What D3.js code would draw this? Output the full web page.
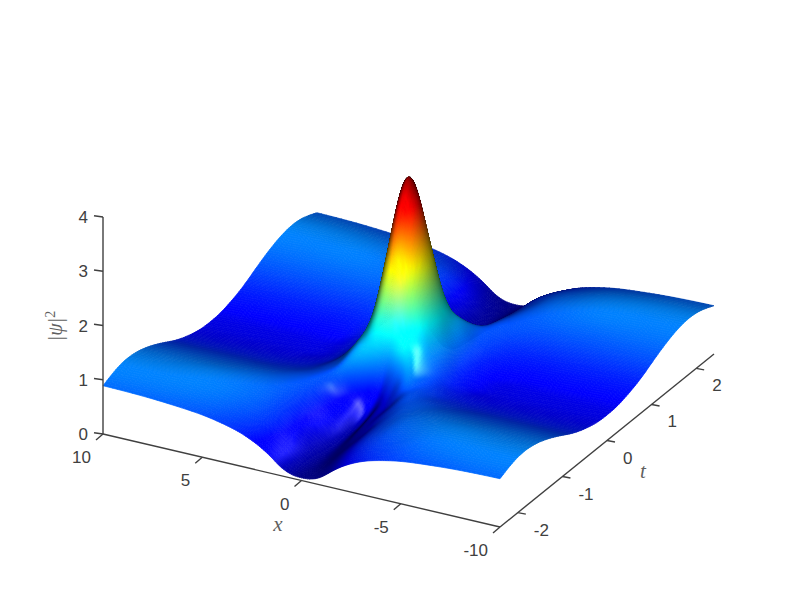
<!DOCTYPE html>
<html><head><meta charset="utf-8">
<style>html,body{margin:0;padding:0;background:#fff}svg{display:block}</style>
<script src="https://cdn.jsdelivr.net/npm/d3@7/dist/d3.min.js"></script>
</head><body><svg id="chart" width="789" height="592"></svg>
<script>
// Surface heights: one row per t, one column per x.
const xValues=[10,8,6,5,4,3.2,2.6,2,1.5,1,.5,0,-.5,-1,-1.5,-2,-2.6,-3.2,-4,-5,-6,-8,-10];
const tValues=[-2.4,-2,-1.6,-1.3,-1,-.8,-.6,-.4,-.2,0,.2,.4,.6,.8,1,1.3,1.6,2,2.4];
const psiSquared=[
[.89,.87,.82,.78,.71,.63,.54,.42,.29,.15,.07,.05,.07,.15,.29,.42,.54,.63,.71,.78,.82,.87,.89],
[1.02,1.01,.98,.94,.87,.80,.72,.60,.45,.28,.13,.07,.13,.28,.45,.60,.72,.80,.87,.94,.98,1.01,1.02],
[1.00,1.00,1.00,.98,.94,.88,.79,.66,.50,.34,.19,.09,.19,.34,.50,.66,.79,.88,.94,.98,1.00,1.00,1.00],
[.90,.90,.90,.90,.89,.87,.83,.72,.58,.42,.27,.12,.27,.42,.58,.72,.83,.87,.89,.90,.90,.90,.90],
[.76,.76,.76,.76,.77,.80,.82,.80,.66,.50,.36,.18,.36,.50,.66,.80,.82,.80,.77,.76,.76,.76,.76],
[.66,.66,.66,.66,.68,.72,.78,.84,.86,.70,.52,.36,.52,.70,.86,.84,.78,.72,.68,.66,.66,.66,.66],
[.58,.58,.58,.58,.60,.65,.74,.88,1.06,1.12,1.06,.96,1.06,1.12,1.06,.88,.74,.65,.60,.58,.58,.58,.58],
[.52,.52,.52,.52,.54,.59,.70,.93,1.18,1.50,2.03,2.25,2.03,1.50,1.18,.93,.70,.59,.54,.52,.52,.52,.52],
[.48,.48,.48,.48,.49,.56,.68,.95,1.28,1.95,2.89,3.39,2.89,1.95,1.28,.95,.68,.56,.49,.48,.48,.48,.48],
[.47,.47,.47,.47,.48,.55,.67,.96,1.35,2.19,3.37,4.00,3.37,2.19,1.35,.96,.67,.55,.48,.47,.47,.47,.47],
[.48,.48,.48,.48,.49,.56,.68,.95,1.28,1.95,2.89,3.39,2.89,1.95,1.28,.95,.68,.56,.49,.48,.48,.48,.48],
[.52,.52,.52,.52,.54,.59,.70,.93,1.18,1.50,2.03,2.25,2.03,1.50,1.18,.93,.70,.59,.54,.52,.52,.52,.52],
[.58,.58,.58,.58,.60,.65,.74,.88,1.06,1.12,1.06,.96,1.06,1.12,1.06,.88,.74,.65,.60,.58,.58,.58,.58],
[.66,.66,.66,.66,.68,.72,.78,.84,.86,.70,.52,.36,.52,.70,.86,.84,.78,.72,.68,.66,.66,.66,.66],
[.76,.76,.76,.76,.77,.80,.82,.80,.66,.50,.36,.18,.36,.50,.66,.80,.82,.80,.77,.76,.76,.76,.76],
[.90,.90,.90,.90,.89,.87,.83,.72,.58,.42,.27,.12,.27,.42,.58,.72,.83,.87,.89,.90,.90,.90,.90],
[1.00,1.00,1.00,.98,.94,.88,.79,.66,.50,.34,.19,.09,.19,.34,.50,.66,.79,.88,.94,.98,1.00,1.00,1.00],
[1.02,1.01,.98,.94,.87,.80,.72,.60,.45,.28,.13,.07,.13,.28,.45,.60,.72,.80,.87,.94,.98,1.01,1.02],
[.89,.87,.82,.78,.71,.63,.54,.42,.29,.15,.07,.05,.07,.15,.29,.42,.54,.63,.71,.78,.82,.87,.89]
];
const xTicks=[10,5,0,-5,-10], tTicks=[-2,-1,0,1,2], zTicks=[0,1,2,3,4];

// Oblique box scales
const xU=d3.scaleLinear().domain([10,-10]).range([0,1]);
const tV=d3.scaleLinear().domain([-2.4,2.4]).range([0,1]);
const zW=d3.scaleLinear().domain([0,4]).range([0,1]);
const O=[103,434],U=[397,93,192],V=[214,-173,-358],W=[0,-217,105];
function proj(x,t,z){const u=xU(x),v=tV(t),w=zW(z);
  return [O[0]+u*U[0]+v*V[0]+w*W[0], O[1]+u*U[1]+v*V[1]+w*W[1], u*U[2]+v*V[2]+w*W[2]];}

// Smooth rendering of the table (like MATLAB's interpolated shading): C2 cubic spline between the read values
function refine(xs,ys,counts){
  const n=xs.length,h=[],d=[];
  for(let i=0;i<n-1;i++){h[i]=xs[i+1]-xs[i];d[i]=(ys[i+1]-ys[i])/h[i];}
  const a=[],b=[],c=[],r=[];
  for(let i=0;i<n;i++){
    if(i===0){a[i]=0;b[i]=2;c[i]=1;r[i]=3*d[0];}
    else if(i===n-1){a[i]=1;b[i]=2;c[i]=0;r[i]=3*d[n-2];}
    else{a[i]=h[i];b[i]=2*(h[i-1]+h[i]);c[i]=h[i-1];r[i]=3*(h[i]*d[i-1]+h[i-1]*d[i]);}
  }
  for(let i=1;i<n;i++){const f=a[i]/b[i-1];b[i]-=f*c[i-1];r[i]-=f*r[i-1];}
  const m=[];m[n-1]=r[n-1]/b[n-1];
  for(let i=n-2;i>=0;i--)m[i]=(r[i]-c[i]*m[i+1])/b[i];
  const out=[];
  for(let i=0;i<n-1;i++){
    for(let k=0;k<counts[i];k++){const s=k/counts[i],s2=s*s,s3=s2*s;
      out.push((2*s3-3*s2+1)*ys[i]+(s3-2*s2+s)*h[i]*m[i]+(-2*s3+3*s2)*ys[i+1]+(s3-s2)*h[i]*m[i+1]);}}
  out.push(ys[n-1]);return out;}
const xCounts=xValues.slice(1).map((v,i)=>{const st=Math.max(Math.abs(v),Math.abs(xValues[i]))<=3.2?0.1:0.25;return Math.ceil(Math.abs(v-xValues[i])/st-1e-6);});
const tCounts=tValues.slice(1).map((v,i)=>Math.ceil(Math.abs(v-tValues[i])/0.04-1e-6));
const fineX=refine(xValues,xValues,xCounts), fineT=refine(tValues,tValues,tCounts);
const cols=xValues.map((_,j)=>refine(tValues,psiSquared.map(r=>r[j]),tCounts));
const fineZ=fineT.map((_,i)=>refine(xValues,cols.map(c=>c[i]),xCounts).map(z=>Math.max(0,z)));

// Jet colormap and lighting
const cl=v=>Math.max(0,Math.min(1,v));
function jet(v){return [cl(Math.min(4*v-1.5,-4*v+4.5)),cl(Math.min(4*v-.5,-4*v+3.5)),cl(Math.min(4*v+.5,-4*v+2.5))];}
const norm=a=>{const l=Math.hypot(...a);return a.map(c=>c/l);};
const dot=(a,b)=>a[0]*b[0]+a[1]*b[1]+a[2]*b[2];
const L=norm([0,.25,.97]),H=norm([.52,.33,.79]);
const ka=.2,kd=1.1,ks=.4,sp=100;
const nR=fineT.length,nC=fineX.length;
const P=fineT.map((t,i)=>fineX.map((x,j)=>proj(x,t,fineZ[i][j])));
const shade=fineT.map((t,i)=>fineX.map((x,j)=>{
  const a=P[Math.min(i+1,nR-1)][j],b=P[Math.max(i-1,0)][j],c=P[i][Math.min(j+1,nC-1)],d=P[i][Math.max(j-1,0)];
  const e=[a[0]-b[0],-(a[1]-b[1]),a[2]-b[2]],f=[c[0]-d[0],-(c[1]-d[1]),c[2]-d[2]];
  let n=norm([e[1]*f[2]-e[2]*f[1],e[2]*f[0]-e[0]*f[2],e[0]*f[1]-e[1]*f[0]]);
  if(n[1]*217+n[2]*105<0)n=n.map(v=>-v);
  const col=jet(fineZ[i][j]/4),dif=Math.max(0,dot(n,L)),spec=Math.pow(Math.max(0,dot(n,H)),sp);
  return col.map(v=>cl(v*(ka+kd*dif)+ks*spec));
}));
// Each lattice cell is painted as small patches with bilinearly blended colour
const lerp=(a,b,s)=>a.map((v,k)=>v+(b[k]-v)*s);
const cells=[];
for(let i=nR-2;i>=0;i--)for(let j=0;j<nC-1;j++){
  const A=P[i][j],B=P[i][j+1],C=P[i+1][j+1],D=P[i+1][j];
  const cA=shade[i][j],cB=shade[i][j+1],cC=shade[i+1][j+1],cD=shade[i+1][j];
  const diff=(p,q)=>Math.max(...[0,1,2].map(k=>Math.abs(p[k]-q[k])));
  const kx=Math.min(8,Math.ceil(Math.max(diff(cA,cB),diff(cD,cC))/.02)||1);
  const ky=Math.min(8,Math.ceil(Math.max(diff(cA,cD),diff(cB,cC))/.02)||1);
  const at=(u,v,q)=>lerp(lerp(q[0],q[1],u),lerp(q[3],q[2],u),v);
  for(let b=ky-1;b>=0;b--)for(let a=0;a<kx;a++){
    const pts=[[a/kx,b/ky],[(a+1)/kx,b/ky],[(a+1)/kx,(b+1)/ky],[a/kx,(b+1)/ky]].map(([u,v])=>at(u,v,[A,B,C,D]));
    const col=at((a+.5)/kx,(b+.5)/ky,[cA,cB,cC,cD]).map(v=>Math.round(v*255));
    cells.push({c:pts,fill:`rgb(${col})`});
  }
}
const svg=d3.select('#chart');
svg.append('g').selectAll('path').data(cells).join('path')
  .attr('d',d=>'M'+d.c.map(p=>p[0].toFixed(2)+','+p[1].toFixed(2)).join('L')+'Z')
  .attr('fill',d=>d.fill).attr('stroke',d=>d.fill).attr('stroke-width',.7).attr('stroke-linejoin','round');

// Axes
const ink='#404040',font='"Liberation Sans",Arial,sans-serif';
const ax=svg.append('g').attr('stroke',ink).attr('stroke-width',1.4).attr('fill','none');
const seg=(a,b)=>ax.append('line').attr('x1',a[0]).attr('y1',a[1]).attr('x2',b[0]).attr('y2',b[1]);
seg(proj(10,-2.4,0),proj(-10,-2.4,0));
seg(proj(-10,-2.4,0),proj(-10,2.4,0));
seg(proj(10,-2.4,0),proj(10,-2.4,4));
const txt=svg.append('g').attr('fill',ink).attr('font-family',font).attr('font-size',17);
xTicks.forEach(v=>{const p=proj(v,-2.4,0);seg(p,[p[0]-7,p[1]+6]);
  txt.append('text').attr('x',p[0]-12).attr('y',p[1]+29).attr('text-anchor','end').text(v);});
tTicks.forEach(v=>{const p=proj(-10,v,0);seg(p,[p[0]+8,p[1]+1.5]);
  txt.append('text').attr('x',p[0]+16).attr('y',p[1]+23).text(v);});
zTicks.forEach(v=>{const p=proj(10,-2.4,v);seg(p,[p[0]-9,p[1]-1.3]);
  txt.append('text').attr('x',p[0]-15).attr('y',p[1]+6).attr('text-anchor','end').text(v);});
const lab=svg.append('g').attr('fill','#606060').attr('font-family','"Liberation Serif",serif').attr('font-style','italic').attr('font-size',21);
lab.append('text').attr('x',278).attr('y',531).attr('text-anchor','middle').text('x');
lab.append('text').attr('x',643).attr('y',478).attr('text-anchor','middle').text('t');
const zl=lab.append('text').attr('transform','translate(62,326) rotate(-90)').attr('text-anchor','middle').attr('font-size',20);
zl.append('tspan').text('|ψ|');
zl.append('tspan').attr('dy',-7).attr('font-size',14).attr('font-style','normal').text('2');
</script></body></html>
